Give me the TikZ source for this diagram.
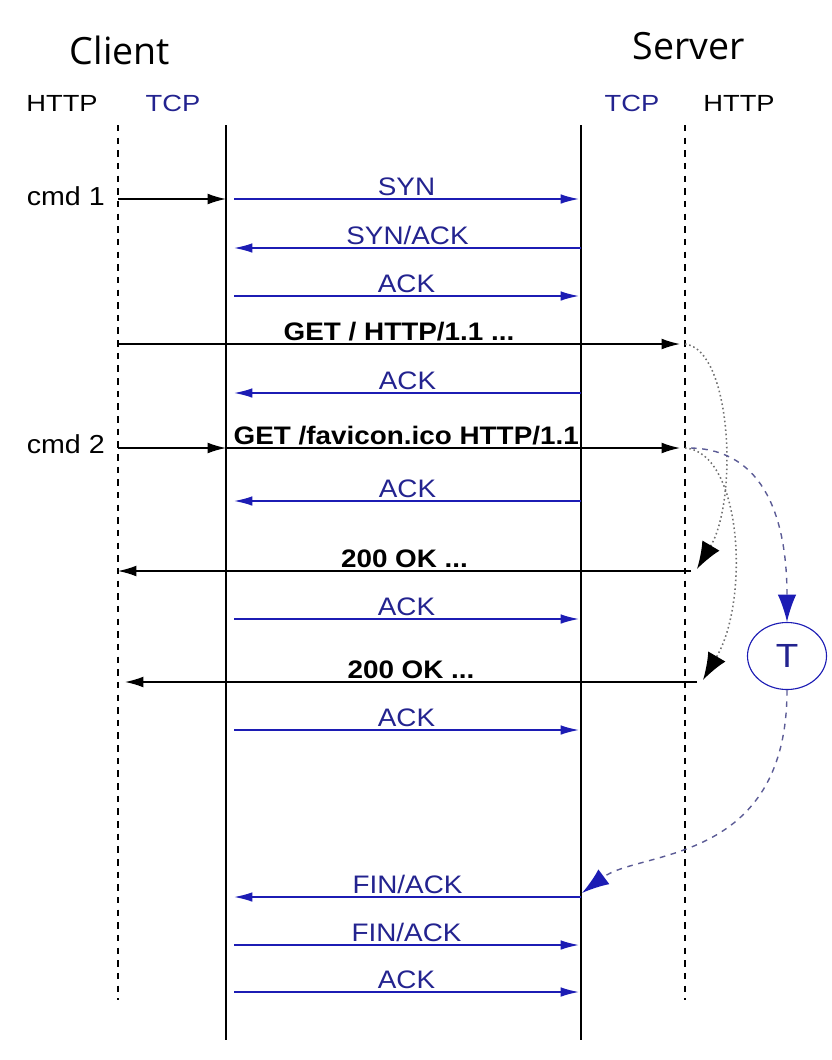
\documentclass[tikz,border=0pt]{standalone}
\usepackage{fontspec}
\setmainfont[FakeStretch=1.1]{Liberation Sans}
\newfontfamily\titlefont{Open Sans}
\newfontfamily\layerfont[FakeStretch=1.17]{Liberation Sans}
\usepackage{tikz}
\usetikzlibrary{positioning,arrows.meta,shapes.geometric,calc}
\definecolor{tcpblue}{HTML}{1C1CB4}
\definecolor{tcptext}{HTML}{23238F}
\definecolor{dotgray}{HTML}{707070}
\definecolor{timerline}{HTML}{5C5C96}

\begin{document}
\begin{tikzpicture}[x=0.025cm, y=-0.025cm,
  titulo/.style={font=\titlefont\fontsize{26.7}{30}\selectfont},
  capa/.style={font=\layerfont\fontsize{16.6}{19}\selectfont},
  vida/.style={line width=1.1pt},
  vidahttp/.style={vida, dash pattern=on 4.6pt off 4.4pt},
  tcpmsg/.style={-{Latex[length=0.46cm, width=0.24cm]}, tcpblue, line width=1.1pt},
  httpmsg/.style={-{Latex[length=0.46cm, width=0.27cm]}, black, line width=1pt},
  etq/.style={font=\fontsize{18}{21}\selectfont, text=tcptext, inner sep=1.5pt},
  req/.style={font=\bfseries\fontsize{18}{21}\selectfont, text=black, inner sep=1.5pt},
  cmd/.style={font=\fontsize{18.5}{21}\selectfont, inner sep=0pt},
  reqflow/.style={-{Latex[length=0.68cm, width=0.5cm, color=black]}, dotgray, dotted, line width=1.1pt},
  timerflow/.style={-{Latex[length=0.68cm, width=0.46cm, color=tcpblue]}, timerline, dash pattern=on 4pt off 4pt, line width=1pt},
  timer/.style={ellipse, draw=tcpblue, line width=0.8pt, minimum width=1.975cm, minimum height=1.675cm, inner sep=0pt, text=tcptext, font=\fontsize{23.8}{26}\selectfont}
]
\useasboundingbox (0,0) rectangle (832,1060);

% cabeceras
\node[titulo] (client) at (120,50) {Client};
\node[titulo] (server) at (689,46) {Server};
\node[capa] (httpC) at (62,103) {HTTP};
\node[capa, text=tcptext] (tcpC) at (173,103) {TCP};
\node[capa, text=tcptext] (tcpS) at (632,103) {TCP};
\node[capa] (httpS) at (739,103) {HTTP};

% lineas de vida
\coordinate (cHttp) at (118,125);  \coordinate (cHttpEnd) at (118,1000);
\coordinate (cTcp) at (226,125);   \coordinate (cTcpEnd) at (226,1040);
\coordinate (sTcp) at (581,125);   \coordinate (sTcpEnd) at (581,1040);
\coordinate (sHttp) at (685,125);  \coordinate (sHttpEnd) at (685,1000);
\coordinate (cTcpOut) at (234,125);
\coordinate (sTcpIn) at (579,125);
\coordinate (sHttpIn) at (680,125);
\coordinate (sHttpOut) at (691,125);
\draw[vidahttp] (cHttp) -- (cHttpEnd);
\draw[vidahttp] (sHttp) -- (sHttpEnd);
\draw[vida] (cTcp) -- (cTcpEnd);
\draw[vida] (sTcp) -- (sTcpEnd);

% filas
\foreach \n/\y in {syn/199, synack/248, ack1/296, get1/344, ack2/393, get2/448,
    ack3/501, ok1/571, ack4/619, ok2/682, ack5/730, fin1/897, fin2/945, ack6/992}
  \coordinate (\n) at (0,\y);

% conexion
\node[cmd, anchor=east] (cmd1) at (105,196) {cmd 1};
\draw[httpmsg] (cHttp |- syn) -- (cTcp |- syn);
\draw[tcpmsg] (cTcpOut |- syn) -- node[etq, above] (lsyn) {SYN} (sTcpIn |- syn);
\draw[tcpmsg] (sTcp |- synack) -- node[etq, above] (lsynack) {SYN/ACK} (cTcpOut |- synack);
\draw[tcpmsg] (cTcpOut |- ack1) -- node[etq, above] (lack1) {ACK} (sTcpIn |- ack1);

% peticiones
\draw[httpmsg] (cHttp |- get1) -- node[req, above] (lget1) {GET / HTTP/1.1 ...} (sHttpIn |- get1);
\draw[tcpmsg] (sTcp |- ack2) -- node[etq, above] (lack2) {ACK} (cTcpOut |- ack2);
\node[cmd, anchor=east] (cmd2) at (105,444) {cmd 2};
\draw[httpmsg] (cHttp |- get2) -- (cTcp |- get2);
\draw[httpmsg] (cTcp |- get2) -- node[req, above, pos=0.397] (lget2) {GET /favicon.ico HTTP/1.1} (sHttpIn |- get2);
\draw[tcpmsg] (sTcp |- ack3) -- node[etq, above] (lack3) {ACK} (cTcpOut |- ack3);

% respuestas
\draw[httpmsg] (sHttpOut |- ok1) -- node[req, above] (lok1) {200 OK ...} (cHttp |- ok1);
\draw[tcpmsg] (cTcpOut |- ack4) -- node[etq, above] (lack4) {ACK} (sTcpIn |- ack4);
\draw[httpmsg] ($(sHttpOut |- ok2)+(6,0)$) -- node[req, above] (lok2) {200 OK ...} ($(cHttp |- ok2)+(7,0)$);
\draw[tcpmsg] (cTcpOut |- ack5) -- node[etq, above] (lack5) {ACK} (sTcpIn |- ack5);

\draw[reqflow] (sHttp |- get1) .. controls (732,350) and (738,500) .. ($(sHttpOut |- ok1)+(6,-2)$);
\draw[reqflow] (sHttp |- get2) .. controls (742,452) and (750,600) .. ($(sHttpOut |- ok2)+(12,-2)$);

% temporizador
\node[timer] (T) at (787,656) {T};
\draw[timerflow] (sHttpOut |- get2) .. controls (765,450) and (787,520) .. (T.north);
\draw[timerflow] (T.south) .. controls (787,865) and (640,850) .. ($(sTcp |- fin1)+(1,-4)$);

% cierre
\draw[tcpmsg] (sTcp |- fin1) -- node[etq, above] (lfin1) {FIN/ACK} (cTcpOut |- fin1);
\draw[tcpmsg] (cTcpOut |- fin2) -- node[etq, above] (lfin2) {FIN/ACK} (sTcpIn |- fin2);
\draw[tcpmsg] (cTcpOut |- ack6) -- node[etq, above] (lack6) {ACK} (sTcpIn |- ack6);
\end{tikzpicture}
\end{document}
